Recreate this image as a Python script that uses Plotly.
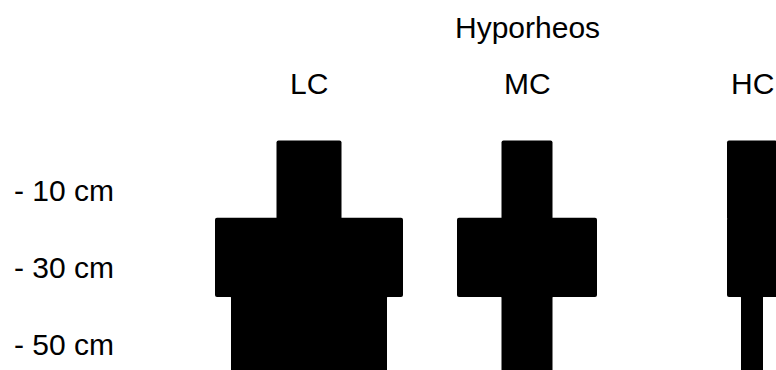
import plotly.graph_objects as go

# data
columns = ["LC", "MC", "HC"]
col_centers = [309, 527, 752]
depths = [-10, -30, -50]
depth_labels = ["- 10 cm", "- 30 cm", "- 50 cm"]
lc_widths = [65, 188, 156]
mc_widths = [51, 140, 51]
hc_widths = [50, 50, 22]
widths = [lc_widths, mc_widths, hc_widths]

font = dict(family="Liberation Sans, Arial, sans-serif", size=30, color="black")

fig = go.Figure()

# one kite per column, each depth a bar centred on the column
for name, center, w in zip(columns, col_centers, widths):
    fig.add_trace(go.Bar(
        y=depths,
        x=w,
        base=[center - v / 2 for v in w],
        orientation="h",
        width=20.5,  # tiny overlap so rows join without seams
        marker=dict(color="black", line=dict(width=0), cornerradius=2),
        name=name,
        showlegend=False,
        hoverinfo="skip",
    ))

# column labels
for name, center in zip(columns, col_centers):
    fig.add_annotation(x=center, y=1, xref="x", yref="paper", yshift=-83,
                       text=name, showarrow=False, font=font,
                       xanchor="center", yanchor="middle")

fig.add_annotation(x=527, y=1, xref="x", yref="paper", yshift=-27,
                   text="Hyporheos", showarrow=False, font=font,
                   xanchor="center", yanchor="middle")

# depth labels
for d, lab in zip(depths, depth_labels):
    fig.add_annotation(x=12, y=d, xref="x", yref="y", yshift=-10,
                       text=lab, showarrow=False, font=font,
                       xanchor="left", yanchor="middle")

fig.update_layout(
    width=776, height=370,
    margin=dict(l=0, r=0, t=0, b=0),
    paper_bgcolor="white", plot_bgcolor="white",
    barmode="overlay",
    xaxis=dict(range=[0, 776], visible=False, fixedrange=True),
    yaxis=dict(range=[-59.1, 36.6], visible=False, fixedrange=True),
)

fig.write_html("out.html", config={"displayModeBar": False},
               post_script="document.body.style.margin='0';")
